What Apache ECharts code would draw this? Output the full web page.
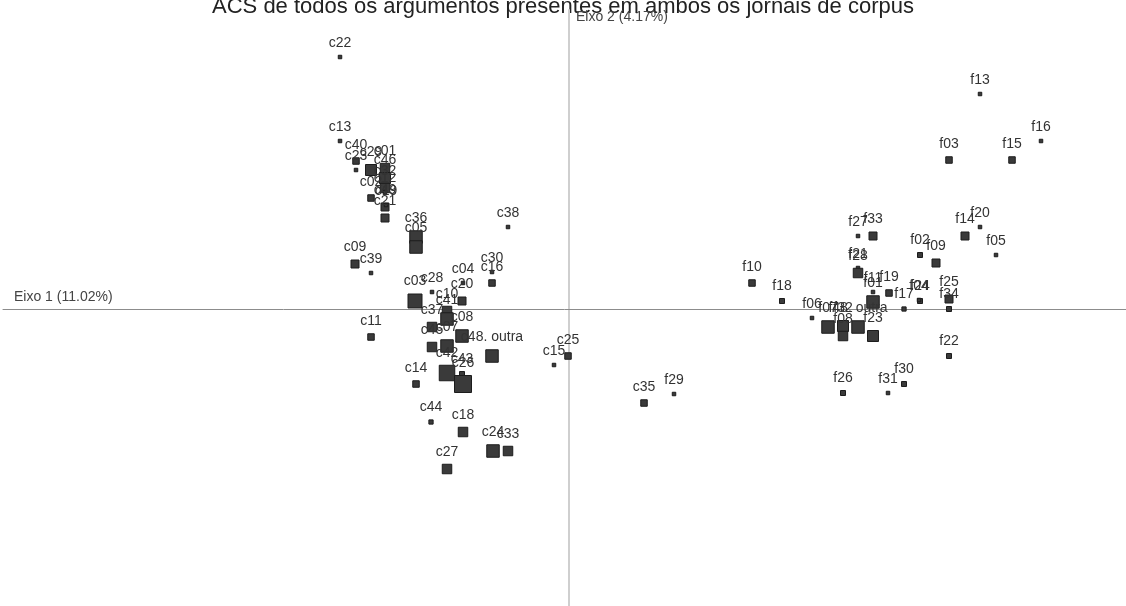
<!DOCTYPE html>
<html>
<head>
<meta charset="utf-8">
<script src="https://cdn.jsdelivr.net/npm/echarts@6/dist/echarts.min.js"></script>
<style>
  html, body { margin: 0; padding: 0; background: #fff; }
  #acs_chart { width: 1126px; height: 606px; }
</style>
</head>
<body>
<div id="acs_chart"></div>
<script>
  // categorias (argumentos) e coordenadas nos dois eixos
  let rotulos = [
    'c22', 'c13', 'c40', 'c23', 'c29', 'c01', 'c46', 'c32', 'c12', 'c02',
    'c49', 'c19', 'c21', 'c36', 'c05', 'c38', 'c09', 'c39', 'c30', 'c16',
    'c04', 'c20', 'c03', 'c28', 'c10', 'c41', 'c37', 'c08', 'c07', 'c45',
    'c48. outra', 'c42', 'c43', 'c26', 'c14', 'c11', 'c15', 'c25', 'c44', 'c18',
    'c24', 'c33', 'c27', 'c35',
    'f29', 'f13', 'f16', 'f03', 'f15', 'f20', 'f14', 'f05', 'f02', 'f09',
    'f10', 'f18', 'f27', 'f33', 'f21', 'f28', 'f11', 'f19', 'f01', 'f17',
    'f24', 'f04', 'f25', 'f34', 'f22', 'f06', 'f07', 'f32', 'f08', 'f48. outra',
    'f23', 'f26', 'f31', 'f30'
  ]
  let eixo1 = [
    -1.145, -1.145, -1.065, -1.065, -0.99, -0.92, -0.92, -0.92, -0.92, -0.99,
    -0.92, -0.915, -0.92, -0.765, -0.765, -0.305, -1.07, -0.99, -0.385, -0.385,
    -0.53, -0.535, -0.77, -0.685, -0.61, -0.61, -0.685, -0.535, -0.61, -0.685,
    -0.385, -0.61, -0.535, -0.53, -0.765, -0.99, -0.075, -0.005, -0.69, -0.53,
    -0.38, -0.305, -0.61, 0.375,
    0.525, 2.055, 2.36, 1.9, 2.215, 2.055, 1.98, 2.135, 1.755, 1.835,
    0.915, 1.065, 1.445, 1.52, 1.445, 1.445, 1.52, 1.6, 1.52, 1.675,
    1.755, 1.75, 1.9, 1.9, 1.9, 1.215, 1.295, 1.37, 1.37, 1.445,
    1.52, 1.37, 1.595, 1.675
  ]
  let eixo2 = [
    1.26, 0.84, 0.74, 0.695, 0.695, 0.705, 0.655, 0.605, 0.585, 0.555,
    0.51, 0.52, 0.455, 0.36, 0.31, 0.41, 0.225, 0.18, 0.185, 0.13,
    0.13, 0.04, 0.04, 0.085, -0.01, -0.05, -0.09, -0.135, -0.185, -0.19,
    -0.235, -0.32, -0.325, -0.375, -0.375, -0.14, -0.28, -0.235, -0.565, -0.615,
    -0.71, -0.71, -0.8, -0.47,
    -0.425, 1.075, 0.84, 0.745, 0.745, 0.41, 0.365, 0.27, 0.27, 0.23,
    0.13, 0.04, 0.365, 0.365, 0.205, 0.18, 0.085, 0.08, 0.035, 0.0,
    0.04, 0.045, 0.05, 0.0, -0.235, -0.045, -0.09, -0.085, -0.135, -0.09,
    -0.135, -0.42, -0.42, -0.375
  ]
  // peso relativo de cada categoria (define o tamanho do marcador)
  let peso = [
    1, 1, 3, 1, 6, 5, 6, 5, 1, 3,
    4, 1, 4, 7, 7, 1, 4, 1, 1, 3,
    1, 4, 8, 1, 5, 7, 5, 7, 7, 5,
    7, 9, 2, 10, 3, 3, 1, 3, 1.5, 5,
    7, 5, 5, 3,
    1, 1, 1, 3, 3, 1, 4, 1, 2, 4,
    3, 2, 1, 4, 1, 5, 1, 3, 7, 1.5,
    2, 1, 4, 2, 2, 1, 7, 6, 5, 7,
    6, 2, 1, 2
  ]

  let pontos = rotulos.map(function (nome, i) {
    return {name: nome, value: [eixo1[i], eixo2[i], peso[i]]}
  })

  let chart = echarts.init(document.getElementById('acs_chart'))
  let option = {
    animation: false,
    grid: {left: 3, right: 0, top: 10, bottom: 0},
    xAxis: {
      type: 'value',
      min: -2.83,
      max: 2.785,
      axisLine: {onZero: true, lineStyle: {color: '#8c8c8c', width: 1}},
      axisTick: {show: false},
      axisLabel: {show: false},
      splitLine: {show: false}
    },
    yAxis: {
      type: 'value',
      min: -1.485,
      max: 1.495,
      axisLine: {onZero: true, lineStyle: {color: '#cfcfcf', width: 2}},
      axisTick: {show: false},
      axisLabel: {show: false},
      splitLine: {show: false}
    },
    graphic: [{
      type: 'text',
      left: 'center',
      top: -4,
      style: {
        text: 'ACS de todos os argumentos presentes em ambos os jornais de corpus',
        font: '22px "Liberation Sans", Arial, sans-serif',
        fill: '#222'
      }
    }, {
      type: 'text',
      left: 14,
      top: 290,
      style: {
        text: 'Eixo 1 (11.02%)',
        font: '14px "Liberation Sans", Arial, sans-serif',
        fill: '#444'
      }
    }, {
      type: 'text',
      left: 576,
      top: 10,
      style: {
        text: 'Eixo 2 (4.17%)',
        font: '14px "Liberation Sans", Arial, sans-serif',
        fill: '#444'
      }
    }],
    series: [{
      type: 'scatter',
      data: pontos,
      symbol: 'rect',
      symbolSize: function (v) {
        return 2 + v[2] * 1.5
      },
      itemStyle: {
        color: '#3a3a3a',
        borderColor: '#1c1c1c',
        borderWidth: 1,
        opacity: 1
      },
      label: {
        show: true,
        position: 'top',
        distance: 5,
        formatter: '{b}',
        color: '#333',
        fontSize: 14,
        fontFamily: '"Liberation Sans", Arial, sans-serif'
      },
      emphasis: {disabled: true}
    }]
  }
  chart.setOption(option)
</script>
</body>
</html>
